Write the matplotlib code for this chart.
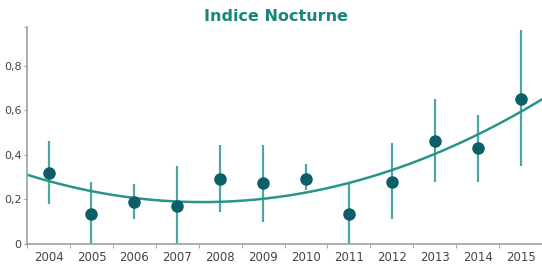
import numpy as np
import matplotlib.pyplot as plt

# data
years = [2004, 2005, 2006, 2007, 2008, 2009, 2010, 2011, 2012, 2013, 2014, 2015]
index = [0.32, 0.135, 0.19, 0.17, 0.29, 0.275, 0.29, 0.135, 0.28, 0.46, 0.43, 0.65]
err_low = [0.18, 0.0, 0.11, 0.0, 0.145, 0.10, 0.24, 0.0, 0.11, 0.28, 0.28, 0.35]
err_high = [0.46, 0.28, 0.27, 0.35, 0.445, 0.445, 0.36, 0.275, 0.455, 0.65, 0.58, 0.96]
# trend curve values read at each year
trend = [0.285, 0.235, 0.205, 0.19, 0.19, 0.20, 0.23, 0.275, 0.33, 0.41, 0.49, 0.59]
ytick_vals = [0, 0.2, 0.4, 0.6, 0.8]
ytick_labels = ['0', '0,2', '0,4', '0,6', '0,8']

x = np.array(years)
y = np.array(index)
yerr = [y - np.array(err_low), np.array(err_high) - y]

fig = plt.figure(figsize=(5.42, 2.68), dpi=100)
ax = fig.add_axes([0.05, 0.09, 0.95, 0.81])

# smooth trend through the read values
coef = np.polyfit(x, trend, 2)
xs = np.linspace(2003.5, 2015.5, 200)
ax.plot(xs, np.polyval(coef, xs), color='#2a948c', lw=1.8, zorder=2)

ax.errorbar(x, y, yerr=yerr, fmt='none', ecolor='#4aa8a0', elinewidth=1.6, zorder=1)
ax.plot(x, y, 'o', color='#0d5e66', markersize=8, zorder=3)

ax.set_xlim(2003.5, 2015.45)
ax.set_ylim(0, 0.975)
ax.set_xticks(x)
ax.set_xticklabels([str(v) for v in years])
ax.set_xticks(np.arange(2003.5, 2015.6, 1), minor=True)
ax.tick_params(axis='x', which='major', length=0, labelsize=8.5, colors='#454545', pad=5)
ax.tick_params(axis='x', which='minor', length=3, color='#999999')
ax.set_yticks(ytick_vals)
ax.set_yticklabels(ytick_labels)
ax.set_yticks([0.975], minor=True)
ax.tick_params(axis='y', which='both', length=2.5, color='#999999', labelsize=8, labelcolor='#454545', pad=1.5)

for s in ['top', 'right']:
    ax.spines[s].set_visible(False)
for s in ['left', 'bottom']:
    ax.spines[s].set_color('#a0a0a0')
    ax.spines[s].set_linewidth(1.2)

fig.text(0.51, 0.94, 'Indice Nocturne', ha='center', va='center',
         fontsize=11.5, fontweight='bold', color='#17857c')

fig.savefig('out.png', dpi=100)
